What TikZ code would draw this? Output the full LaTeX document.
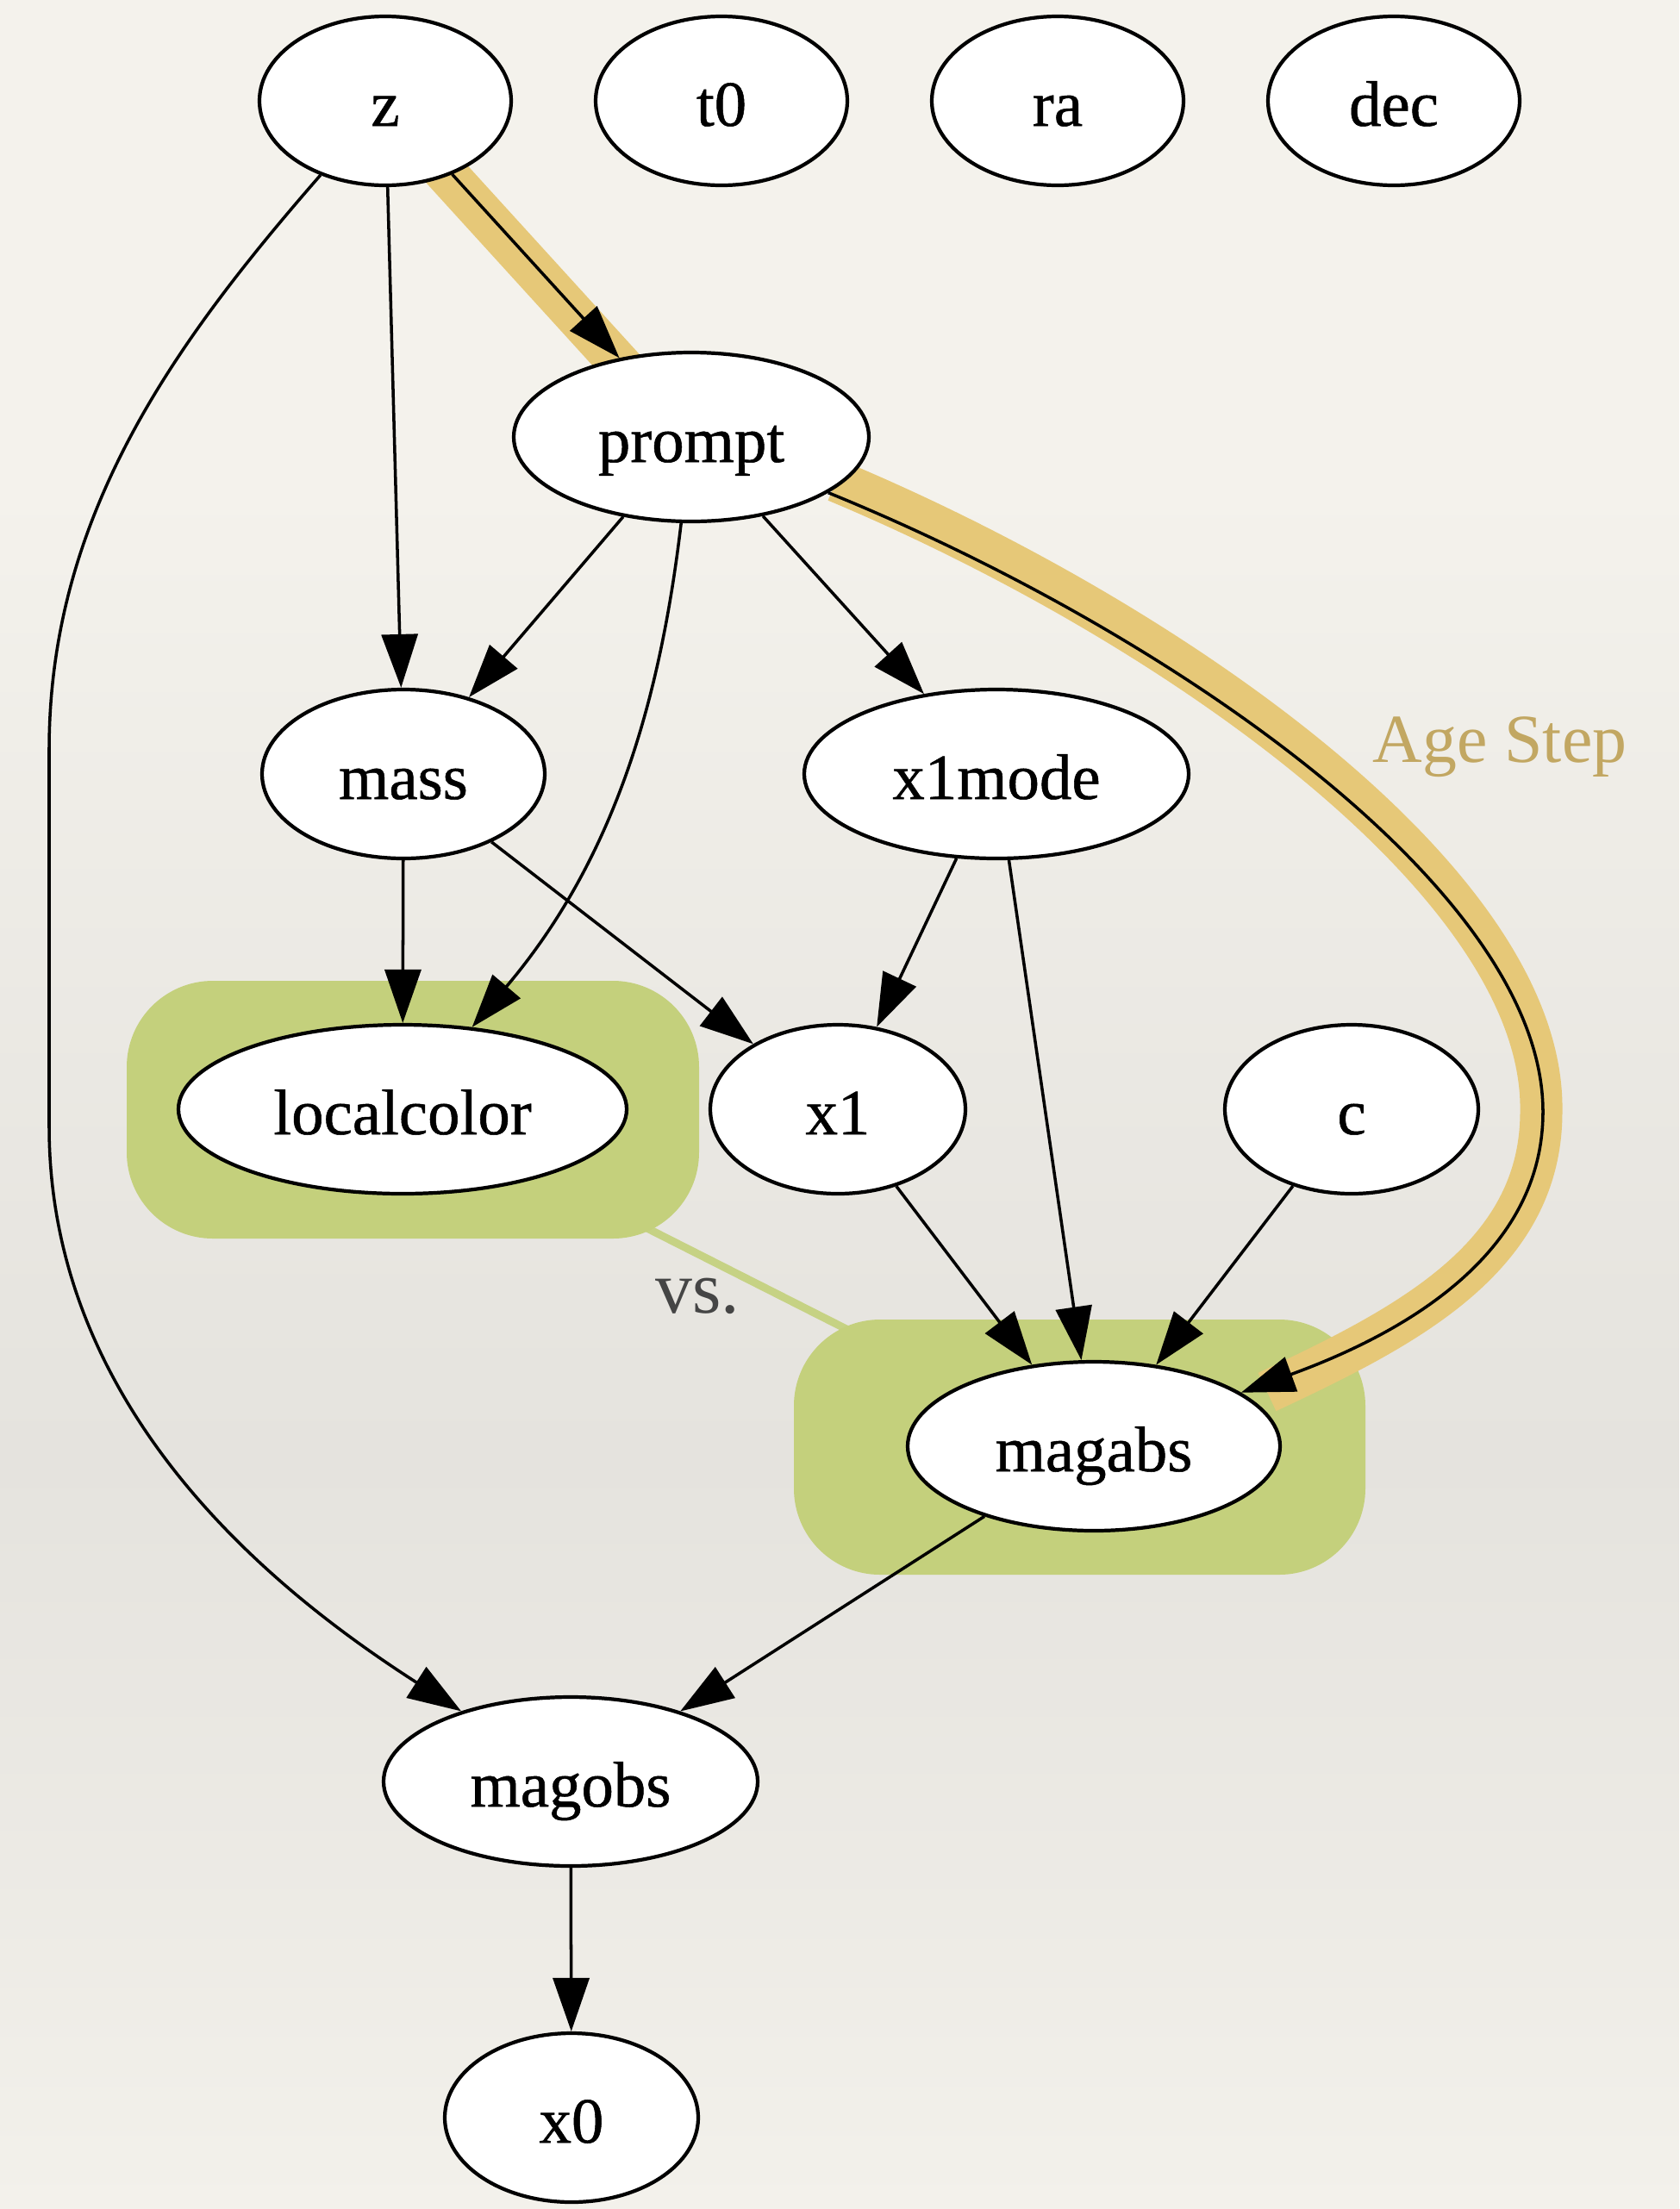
\documentclass[tikz,border=0pt]{standalone}
\usepackage{fontspec}
\newfontfamily\nodefont[FakeBold=0.7]{Liberation Serif}
\newfontfamily\labelfont{Liberation Serif}
\usepackage{xcolor}
\usepackage{tikz}
\usetikzlibrary{arrows.meta,positioning,shapes.geometric}

\definecolor{paperlight}{HTML}{F4F2EC}
\definecolor{paperbottom}{HTML}{F3F1EB}
\definecolor{papermid}{HTML}{E5E3DE}
\definecolor{groupgreen}{HTML}{C4D07C}
\definecolor{vsgreen}{HTML}{C6D284}
\definecolor{ageband}{HTML}{E6C878}
\definecolor{agetext}{HTML}{C2A762}
\definecolor{vsgray}{HTML}{454545}

% paper tone, darker a bit below the middle
\pgfdeclareverticalshading{paper}{100bp}{color(0bp)=(paperbottom); color(25bp)=(paperbottom);
  color(32bp)=(paperbottom!55!papermid); color(42bp)=(papermid); color(52bp)=(papermid!60!paperlight);
  color(64bp)=(paperlight); color(100bp)=(paperlight)}

\pgfdeclarelayer{paper}
\pgfdeclarelayer{background}
\pgfsetlayers{paper,background,main}

\tikzset{
  var/.style={ellipse,draw,fill=white,line width=1.2pt,inner sep=0pt,
    minimum height=1.96cm,text height=17pt,text depth=.5pt,
    font=\nodefont\fontsize{21.3}{26}\selectfont},
  dep/.style={draw,->,line width=1pt},
  deps/.style={every edge/.style={dep}},
  model/.style={>={Triangle[length=6.2mm,width=4.2mm]},node distance=3.9cm},
  groupbox/.style={rectangle,fill=groupgreen,rounded corners=1cm,inner sep=0pt},
  vsline/.style={draw=vsgreen,line width=.9mm},
  band/.style={draw=ageband,line width=4.9mm}
}

\begin{document}
\begin{tikzpicture}[model]
  \useasboundingbox (0,0) rectangle (19.48,-25.63);
  \begin{pgfonlayer}{paper}
    \shade[shading=paper] (0,0) rectangle (19.48,-25.63);
  \end{pgfonlayer}

  % top row
  \node[var,minimum width=2.92cm] (z) at (4.47,-1.17) {z};
  \node[var,minimum width=2.92cm] (t0) [right of=z] {t0};
  \node[var,minimum width=2.92cm] (ra) [right of=t0] {ra};
  \node[var,minimum width=2.92cm] (dec) [right of=ra] {dec};

  \node[var,minimum width=4.12cm] (prompt) at (8.02,-5.07) {prompt};
  \node[var,minimum width=3.28cm] (mass) at (4.68,-8.98) {mass};
  \node[var,minimum width=4.46cm] (x1mode) at (11.56,-8.98) {x1mode};
  \node[var,minimum width=5.20cm] (localcolor) at (4.67,-12.87) {localcolor};
  \node[var,minimum width=2.96cm] (x1) at (9.72,-12.87) {x1};
  \node[var,minimum width=2.94cm] (c) at (15.68,-12.87) {c};
  \node[var,minimum width=4.32cm] (magabs) at (12.69,-16.78) {magabs};
  \node[var,minimum width=4.34cm] (magobs) at (6.62,-20.67) {magobs};
  \node[var,minimum width=2.94cm] (x0) at (6.63,-24.57) {x0};

  \node[text=agetext,font=\labelfont\fontsize{22.7}{27}\selectfont,anchor=base] (agestep) at (17.40,-8.84) {Age Step};
  \node[text=vsgray,font=\labelfont\fontsize{24.4}{29}\selectfont,anchor=base] (vs) at (8.09,-15.23) {vs.};

  % groups and the highlighted step
  \begin{pgfonlayer}{background}
    \node[groupbox,minimum width=6.64cm,minimum height=2.99cm] (lcbox) at (4.79,-12.875) {};
    \node[groupbox,minimum width=6.63cm,minimum height=2.96cm] (mabox) at (12.525,-16.79) {};
    \draw[band] ([xshift=-.6mm]z.center) -- ([xshift=-.6mm]prompt.center);
    \draw[band] (9.7,-5.58) .. controls (13.5,-7.17) and (17.93,-10.22) .. (17.88,-12.9)
      .. controls (17.88,-14.6) and (16.3,-15.4) .. (14.7,-16.15);
  \end{pgfonlayer}
  \begin{pgfonlayer}{paper}
    \draw[vsline] (lcbox.center) -- (mabox.center);
  \end{pgfonlayer}

  \path[deps]
  (z) edge (prompt)
  (z) edge (mass)
  (prompt) edge (mass)
  (prompt) edge (x1mode)
  (mass) edge (localcolor)
  (mass) edge (x1)
  (x1mode) edge (x1)
  (x1mode) edge (magabs)
  (x1) edge (magabs)
  (c) edge (magabs)
  (magabs) edge (magobs)
  (magobs) edge (x0)
  ;
  \draw[dep] (z) .. controls (2.0,-4.0) and (0.57,-6.0) .. (0.57,-8.7) -- (0.57,-13.07)
    .. controls (0.57,-16.5) and (3.4,-18.6) .. (magobs);
  \draw[dep] (prompt) .. controls (7.65,-8.2) and (7.1,-10.0) .. (localcolor);
  \draw[dep] (prompt) .. controls (13.5,-7.3) and (17.9,-10.3) .. (17.9,-12.9)
    .. controls (17.9,-14.6) and (16.2,-15.5) .. (magabs);
\end{tikzpicture}
\end{document}
